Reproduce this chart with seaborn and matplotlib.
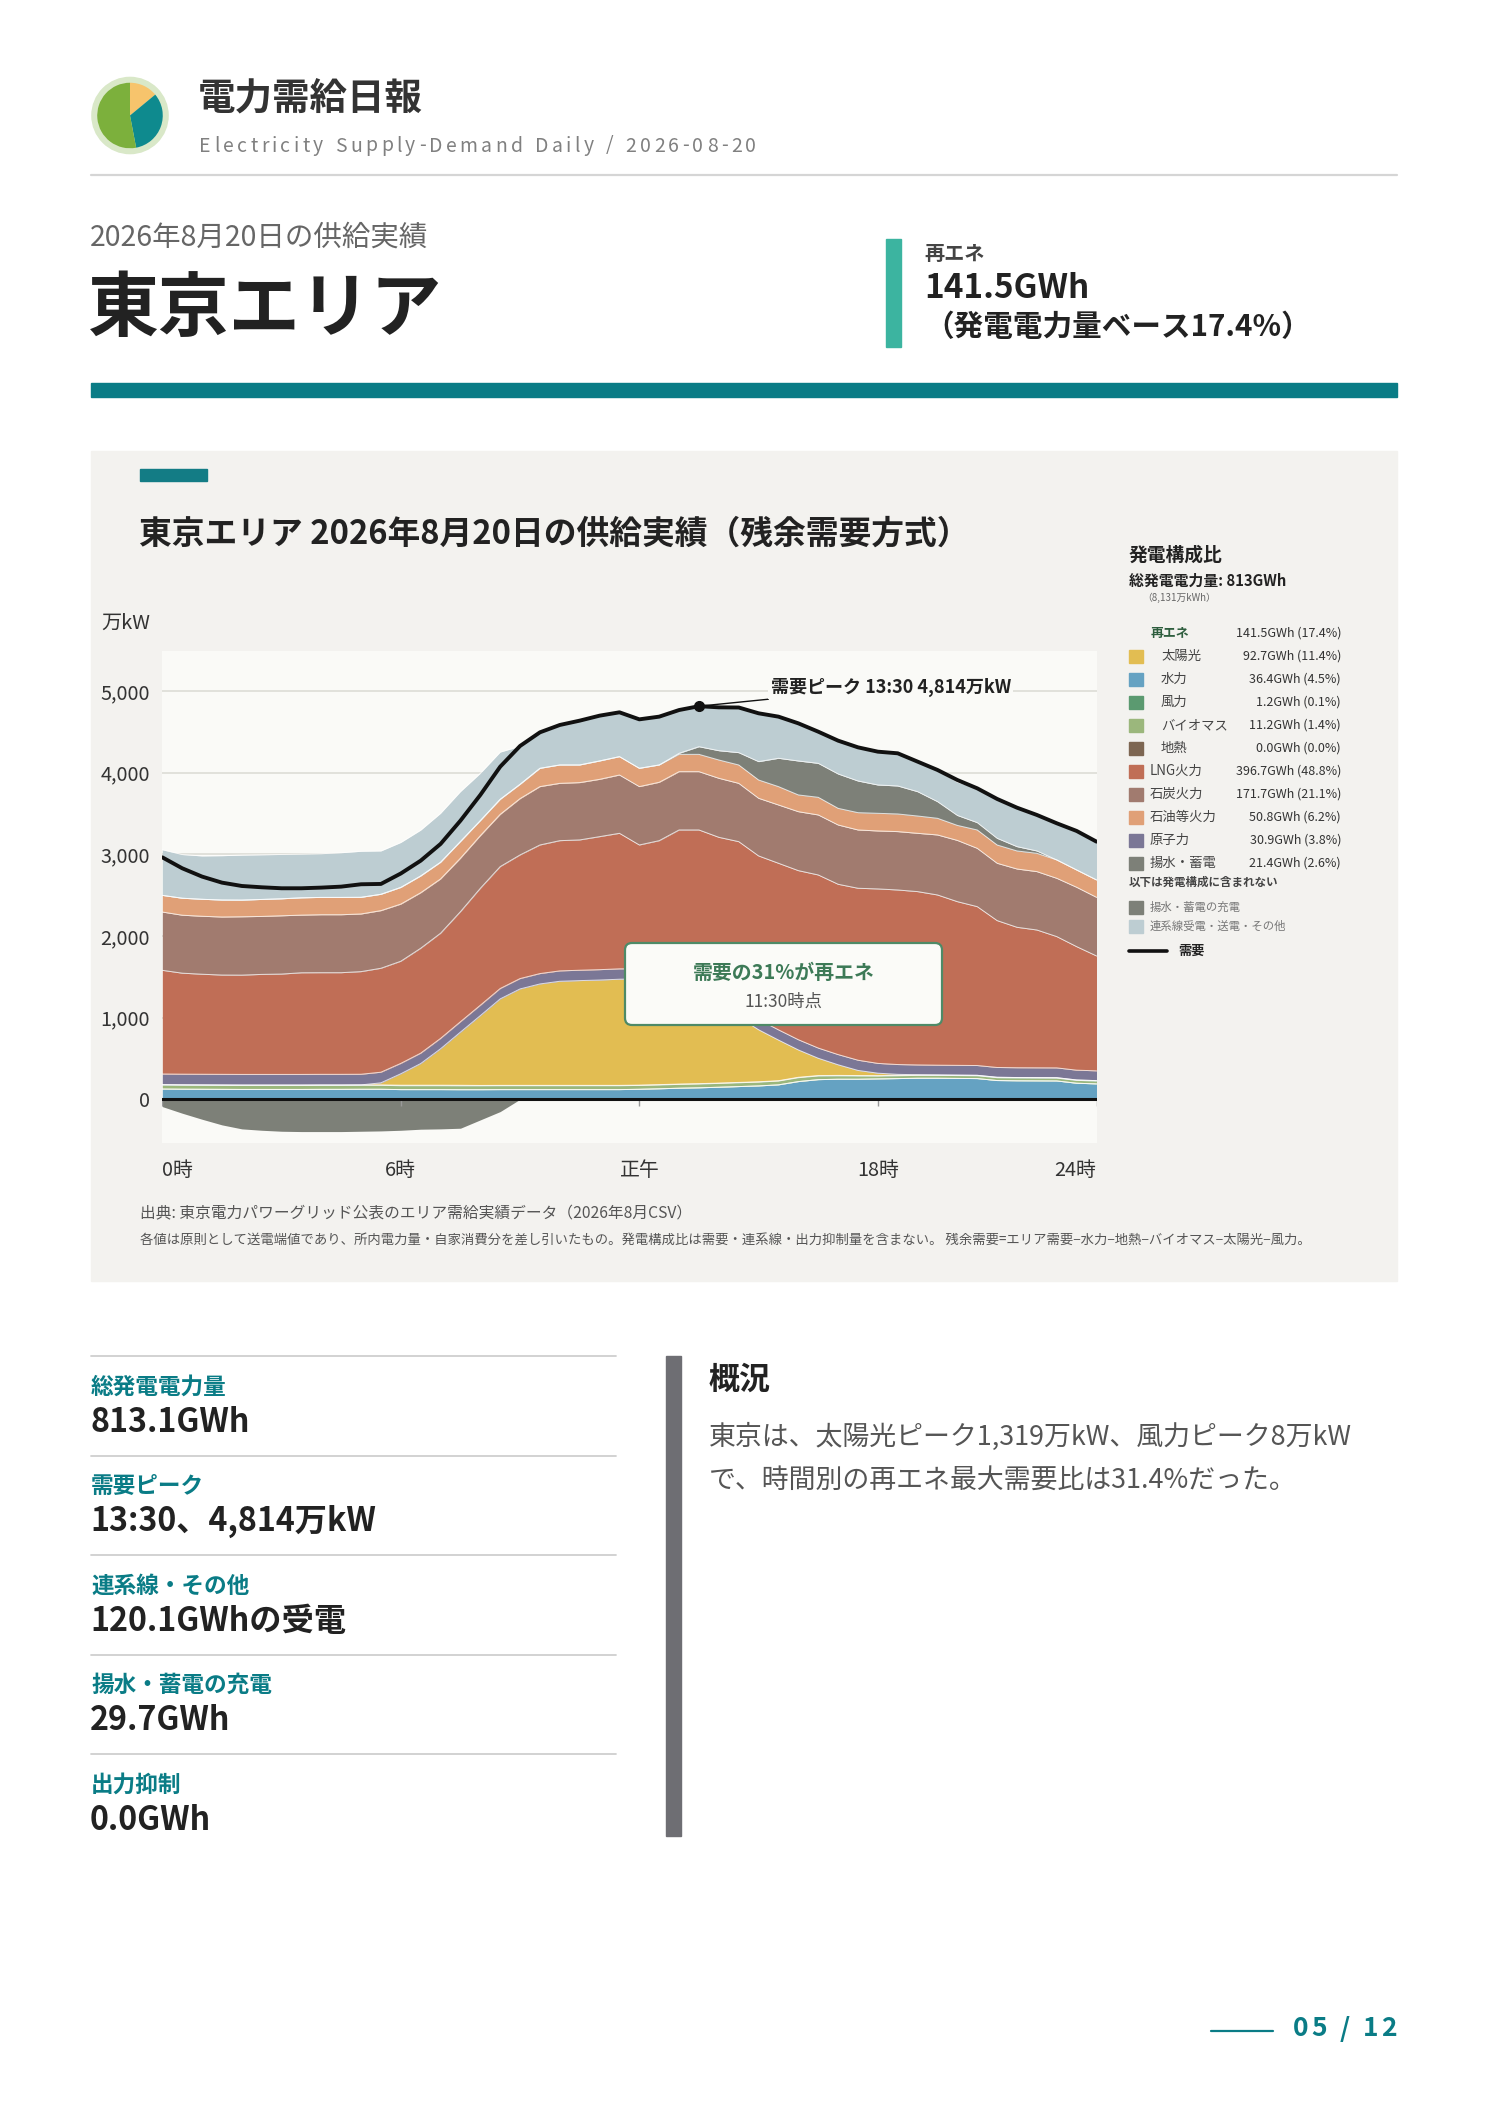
import numpy as np
import pandas as pd
import matplotlib
matplotlib.use("Agg")
import matplotlib.pyplot as plt
import seaborn as sns
from matplotlib.patches import Rectangle, FancyBboxPatch, Circle
from matplotlib.font_manager import FontProperties

# ---------------- data (万kW, 30-minute slots 0:00 .. 23:30) ----------------
slots = np.arange(0, 24, 0.5)

demand = [2963, 2829, 2727, 2653, 2612, 2596, 2584, 2584, 2592, 2604, 2633, 2637,
          2765, 2922, 3127, 3412, 3727, 4073, 4327, 4494, 4584, 4637, 4698, 4739,
          4653, 4686, 4767, 4814, 4800, 4798, 4727, 4686, 4604, 4502, 4392, 4310,
          4257, 4237, 4135, 4033, 3910, 3808, 3678, 3571, 3482, 3380, 3286, 3155]

hydro = [125, 123, 122, 121, 120, 120, 120, 120, 121, 121, 122, 122,
         118, 118, 118, 117, 117, 118, 118, 118, 118, 118, 118, 118,
         122, 128, 135, 140, 147, 155, 163, 176, 216, 240, 245, 245,
         249, 253, 257, 257, 255, 253, 229, 226, 225, 224, 196, 188]

geothermal = [0] * 48

biomass = [48, 48, 48, 48, 48, 48, 48, 48, 48, 48, 48, 48,
           48, 48, 48, 48, 48, 48, 48, 48, 48, 48, 48, 48,
           47, 47, 47, 47, 47, 47, 47, 47, 48, 45, 42, 40,
           35, 35, 35, 35, 35, 35, 35, 35, 35, 35, 35, 35]

wind = [6, 6, 6, 6, 6, 6, 6, 6, 6, 6, 6, 6,
        6, 6, 6, 6, 4, 4, 4, 4, 4, 4, 4, 4,
        4, 4, 4, 4, 4, 4, 4, 4, 5, 5, 5, 5,
        5, 5, 5, 5, 5, 5, 5, 5, 5, 5, 5, 5]

solar = [0, 0, 0, 0, 0, 0, 0, 0, 0, 0, 0, 25,
         140, 265, 446, 651, 855, 1059, 1181, 1242, 1275, 1283, 1290, 1300,
         1300, 1319, 1250, 1120, 960, 800, 637, 498, 335, 212, 130, 63,
         30, 12, 3, 0, 0, 0, 0, 0, 0, 0, 0, 0]

nuclear = [130] * 12 + [127] * 12 + [125] * 12 + [120] * 12

lng = [1270, 1237, 1225, 1216, 1216, 1225, 1229, 1245, 1245, 1245, 1257, 1273,
       1251, 1285, 1288, 1348, 1432, 1493, 1514, 1575, 1595, 1596, 1629, 1660,
       1516, 1544, 1737, 1862, 1925, 2024, 2004, 2040, 2071, 2120, 2086, 2106,
       2137, 2138, 2123, 2085, 2005, 1946, 1799, 1720, 1688, 1608, 1513, 1407]

coal = [714, 710, 710, 711, 715, 710, 714, 706, 710, 710, 706, 706,
        700, 680, 665, 655, 645, 640, 690, 715, 702, 702, 702, 714,
        715, 715, 714, 714, 723, 714, 706, 714, 722, 735, 726, 714,
        710, 715, 714, 735, 750, 714, 702, 714, 715, 714, 727, 718]

oil = [204, 208, 208, 208, 204, 208, 208, 212, 212, 212, 204, 200,
       204, 205, 204, 204, 184, 184, 175, 224, 225, 216, 225, 225,
       224, 212, 212, 212, 224, 225, 224, 225, 205, 216, 204, 212,
       216, 216, 212, 204, 184, 225, 224, 221, 224, 225, 212, 213]

pumped = [0, 0, 0, 0, 0, 0, 0, 0, 0, 0, 0, 0,
          0, 0, 0, 0, 0, 0, 0, 0, 0, 0, 0, 0,
          0, 0, 13, 94, 114, 151, 225, 347, 416, 416, 421, 388,
          347, 343, 298, 204, 122, 90, 82, 53, 29, 0, 0, 0]

interconnect = [559, 535, 531, 543, 551, 547, 543, 535, 535, 547, 564, 531,
                551, 562, 600, 612, 580, 579, 466, 441, 490, 543, 555, 543,
                600, 592, 530, 496, 531, 553, 592, 510, 461, 388, 408, 412,
                408, 400, 368, 388, 408, 420, 482, 477, 441, 449, 478, 469]

charging = [-90, -171, -245, -314, -363, -380, -392, -396, -396, -396, -392, -388,
            -380, -367, -363, -355, -253, -151, 0, 0, 0, 0, 0, 0,
            0, 0, 0, 0, 0, 0, 0, 0, 0, 0, 0, 0,
            0, 0, 0, 0, 0, 0, 0, 0, 0, 0, 0, 0]

x_ticks = [0, 6, 12, 18, 23.5]
x_tick_labels = ["0時", "6時", "正午", "18時", "24時"]
y_ticks = [0, 1000, 2000, 3000, 4000, 5000]

legend_names = ["太陽光", "水力", "風力", "バイオマス", "地熱",
                "LNG火力", "石炭火力", "石油等火力", "原子力", "揚水・蓄電"]
legend_gwh = [92.7, 36.4, 1.2, 11.2, 0.0, 396.7, 171.7, 50.8, 30.9, 21.4]
legend_pct = [11.4, 4.5, 0.1, 1.4, 0.0, 48.8, 21.1, 6.2, 3.8, 2.6]
renew_gwh, renew_pct = 141.5, 17.4
logo_shares = [14, 33, 53]

stat_labels = ["総発電電力量", "需要ピーク", "連系線・その他", "揚水・蓄電の充電", "出力抑制"]
stat_values = ["813.1GWh", "13:30、4,814万kW", "120.1GWhの受電", "29.7GWh", "0.0GWh"]

# ---------------- style ----------------
sns.set_theme(style="white")
FAM = ['Noto Sans CJK JP', 'DejaVu Sans']
plt.rcParams['font.family'] = FAM
plt.rcParams['axes.unicode_minus'] = False

C = dict(solar='#e2bd52', hydro='#65a2c2', wind='#5b9a70', bio='#9bb77c', geo='#7d6652',
         lng='#c06e56', coal='#a17b6f', oil='#e0a077', nuclear='#7b7796',
         pumped='#7d8078', inter='#bdcdd2')
TEAL = '#0a7c86'

W, H = 1488, 2105
fig = plt.figure(figsize=(W / 100, H / 100), dpi=100, facecolor='white')
bg = fig.add_axes([0, 0, 1, 1], zorder=0)
bg.set_xlim(0, W); bg.set_ylim(H, 0); bg.axis('off')
renderer = fig.canvas.get_renderer()


def T(x, y, s, size, color='#222', weight='normal', ha='left', va='center', ax=None, **kw):
    return (ax or bg).text(x, y, s, fontsize=size, color=color, fontweight=weight,
                           ha=ha, va=va, **kw)


def spaced(x0, x1, y, s, size, color, weight='normal'):
    """Draw text with uniform letter spacing so that it spans x0..x1 (pixels)."""
    fp = FontProperties(family=FAM, size=size, weight=weight)
    widths = []
    for ch in s:
        if ch == ' ':
            widths.append(size * 100 / 72 * 0.28)
        else:
            w, _, _ = renderer.get_text_width_height_descent(ch, fp, ismath=False)
            widths.append(w)
    gap = (x1 - x0 - sum(widths)) / max(len(s) - 1, 1)
    x = x0
    for ch, w in zip(s, widths):
        if ch != ' ':
            bg.text(x, y, ch, fontproperties=fp, color=color, ha='left', va='center')
        x += w + gap


# ---------------- header ----------------
lax = fig.add_axes([(130 - 40) / W, 1 - (115.5 + 40) / H, 80 / W, 80 / H])
lax.set_aspect('equal'); lax.axis('off')
lax.add_patch(Circle((0, 0), 1.0, color='#d9e8c8', zorder=0))
lax.pie(logo_shares, colors=['#f7c46c', '#0e8a8e', '#7cb03c'], startangle=90,
        counterclock=False, radius=0.86, wedgeprops=dict(linewidth=0))
lax.set_xlim(-1.05, 1.05); lax.set_ylim(-1.05, 1.05)

T(198, 98, "電力需給日報", 27, '#333', 'bold')
spaced(199, 756, 146, "Electricity Supply-Demand Daily / 2026-08-20", 14, '#808080')
bg.plot([91, 1397], [175, 175], color='#d5d5d5', lw=1.6)
T(90, 238, "2026年8月20日の供給実績", 20.5, '#666')
T(88, 310, "東京エリア", 51, '#222', 'bold')
bg.add_patch(Rectangle((886, 239), 15, 108, color='#3cb4a0'))
T(924, 254, "再エネ", 14.5, '#444', 'bold')
T(924, 289, f"{renew_gwh}GWh", 24, '#222', 'bold')
T(924, 327, f"（発電電力量ベース{renew_pct}%）", 21.3, '#222', 'bold')
bg.add_patch(Rectangle((91, 383), 1306, 14, color=TEAL))

# ---------------- chart panel ----------------
bg.add_patch(Rectangle((91, 451), 1306, 830, color='#f3f2ef', zorder=0))
bg.add_patch(Rectangle((140, 469), 67, 12, color='#137c85'))
T(139, 534, "東京エリア 2026年8月20日の供給実績（残余需要方式）", 23.6, '#222', 'bold')
T(101, 623, "万kW", 14.5, '#333')

ax = fig.add_axes([162.3 / W, 1 - 1143 / H, (1096.5 - 162.3) / W, (1143 - 651) / H], zorder=2)
ax.set_facecolor('#fafaf7')
for s in ax.spines.values():
    s.set_visible(False)

layers = [("hydro", hydro), ("geo", geothermal), ("bio", biomass), ("wind", wind),
          ("solar", solar), ("nuclear", nuclear), ("lng", lng), ("coal", coal),
          ("oil", oil), ("pumped", pumped), ("inter", interconnect)]
base = np.zeros(len(slots))
for key, vals in layers:
    top = base + np.array(vals, dtype=float)
    ax.fill_between(slots, base, top, color=C[key], lw=0, zorder=2)
    ax.plot(slots, top, color='white', lw=0.7, alpha=0.75, zorder=2.5)
    base = top
ax.fill_between(slots, charging, 0, color=C['pumped'], lw=0, zorder=2)

ax.set_xlim(0, 23.5)
ax.set_ylim(-536, 5490)
ax.set_yticks(y_ticks)
ax.set_yticklabels([f"{v:,}" for v in y_ticks])
ax.set_xticks(x_ticks)
ax.set_xticklabels(x_tick_labels)
xl = ax.get_xticklabels()
xl[0].set_ha('left'); xl[-1].set_ha('right')
ax.tick_params(axis='both', length=0, labelsize=14.3, labelcolor='#333')
ax.tick_params(axis='x', pad=12)
ax.tick_params(axis='y', pad=9)
ax.yaxis.grid(True, color='#dcdcd6', lw=1.2, zorder=0)
ax.xaxis.grid(False)
ax.set_axisbelow(True)
ax.axhline(0, color='#111', lw=2.2, zorder=5)
ax.vlines(x_ticks, -85, 0, color='#999', lw=1, zorder=4)

df = pd.DataFrame({"time": slots, "demand": demand})
sns.lineplot(data=df, x="time", y="demand", ax=ax, color='#111', lw=2.8, zorder=6)
ax.set_xlabel(""); ax.set_ylabel("")

ipk = int(np.argmax(demand))
pk_t, pk_v = slots[ipk], demand[ipk]
ax.plot([pk_t], [pk_v], 'o', color='#111', ms=7, zorder=7)
hh, mm = int(pk_t), int(round((pk_t % 1) * 60))
ax.annotate(f"需要ピーク {hh}:{mm:02d} {pk_v:,}万kW", xy=(pk_t, pk_v), xytext=(15.3, 5050),
            ha='left', va='center', fontsize=13, fontweight='bold', color='#222', zorder=8,
            arrowprops=dict(arrowstyle='-', color='#111', lw=1.0, shrinkA=0, shrinkB=0),
            bbox=dict(boxstyle='square,pad=0.15', fc='#fafaf7', ec='none'))

# overlay for callout box
top_ax = fig.add_axes([0, 0, 1, 1], zorder=5)
top_ax.set_xlim(0, W); top_ax.set_ylim(H, 0); top_ax.axis('off')
top_ax.patch.set_alpha(0)
top_ax.add_patch(FancyBboxPatch((625, 943), 317, 82, boxstyle="round,pad=0,rounding_size=7",
                                fc='#fbfbf8', ec='#4e8a67', lw=1.6))
T(783.5, 972, "需要の31%が再エネ", 14.3, '#3d7a57', 'bold', ha='center', ax=top_ax)
T(783.5, 1002, "11:30時点", 12.5, '#555', ha='center', ax=top_ax)

# ---------------- legend (right side) ----------------
T(1129, 555, "発電構成比", 13.5, '#222', 'bold')
T(1129, 581, "総発電電力量: 813GWh", 10.7, '#222', 'bold')
T(1142, 598, "（8,131万kWh）", 7, '#666')
T(1151, 633, "再エネ", 9.3, '#2e5e3e', 'bold')
T(1341, 633, f"{renew_gwh}GWh ({renew_pct}%)", 9, '#333', ha='right')
leg_colors = [C['solar'], C['hydro'], C['wind'], C['bio'], C['geo'],
              C['lng'], C['coal'], C['oil'], C['nuclear'], C['pumped']]
for i, (nm, g, p, col) in enumerate(zip(legend_names, legend_gwh, legend_pct, leg_colors)):
    y = 656 + i * 23
    bg.add_patch(Rectangle((1129, y - 6.5), 14, 13, color=col))
    T(1161 if i < 5 else 1150, y, nm, 9.6, '#444')
    T(1341, y, f"{g}GWh ({p}%)", 9, '#333', ha='right')
T(1129, 882, "以下は発電構成に含まれない", 8.3, '#444', 'bold')
bg.add_patch(Rectangle((1129, 907 - 6.5), 14, 13, color=C['pumped']))
T(1150, 907, "揚水・蓄電の充電", 8.2, '#777')
bg.add_patch(Rectangle((1129, 926 - 6.5), 14, 13, color=C['inter']))
T(1150, 926, "連系線受電・送電・その他", 8.2, '#777')
bg.plot([1129, 1167], [951, 951], color='#111', lw=2.6)
T(1178, 951, "需要", 9.5, '#222', 'bold')

# ---------------- footnotes ----------------
T(140, 1214, "出典: 東京電力パワーグリッド公表のエリア需給実績データ（2026年8月CSV）", 11.3, '#555')
T(140, 1241, "各値は原則として送電端値であり、所内電力量・自家消費分を差し引いたもの。発電構成比は需要・連系線・出力抑制量を含まない。 "
              "残余需要=エリア需要−水力−地熱−バイオマス−太陽光−風力。", 9.6, '#555')

# ---------------- stats ----------------
for i, (lab, val) in enumerate(zip(stat_labels, stat_values)):
    y0 = 1356 + i * 99.5
    bg.plot([91, 616], [y0, y0], color='#cfcfcf', lw=1.3)
    T(91, y0 + 31, lab, 16.3, TEAL, 'bold')
    T(90, y0 + 66, val, 23.2, '#222', 'bold')

bg.add_patch(Rectangle((666, 1356), 15, 480, color='#6e6e73'))
T(709, 1380, "概況", 22.3, '#222', 'bold')
T(709, 1437, "東京は、太陽光ピーク1,319万kW、風力ピーク8万kW", 19.4, '#555')
T(709, 1480, "で、時間別の再エネ最大需要比は31.4%だった。", 19.4, '#555')

# ---------------- footer ----------------
bg.plot([1211, 1273], [2031, 2031], color=TEAL, lw=1.6)
spaced(1293, 1397, 2029, "05 / 12", 19, TEAL, 'bold')

fig.savefig("out.png", dpi=100, facecolor='white')
